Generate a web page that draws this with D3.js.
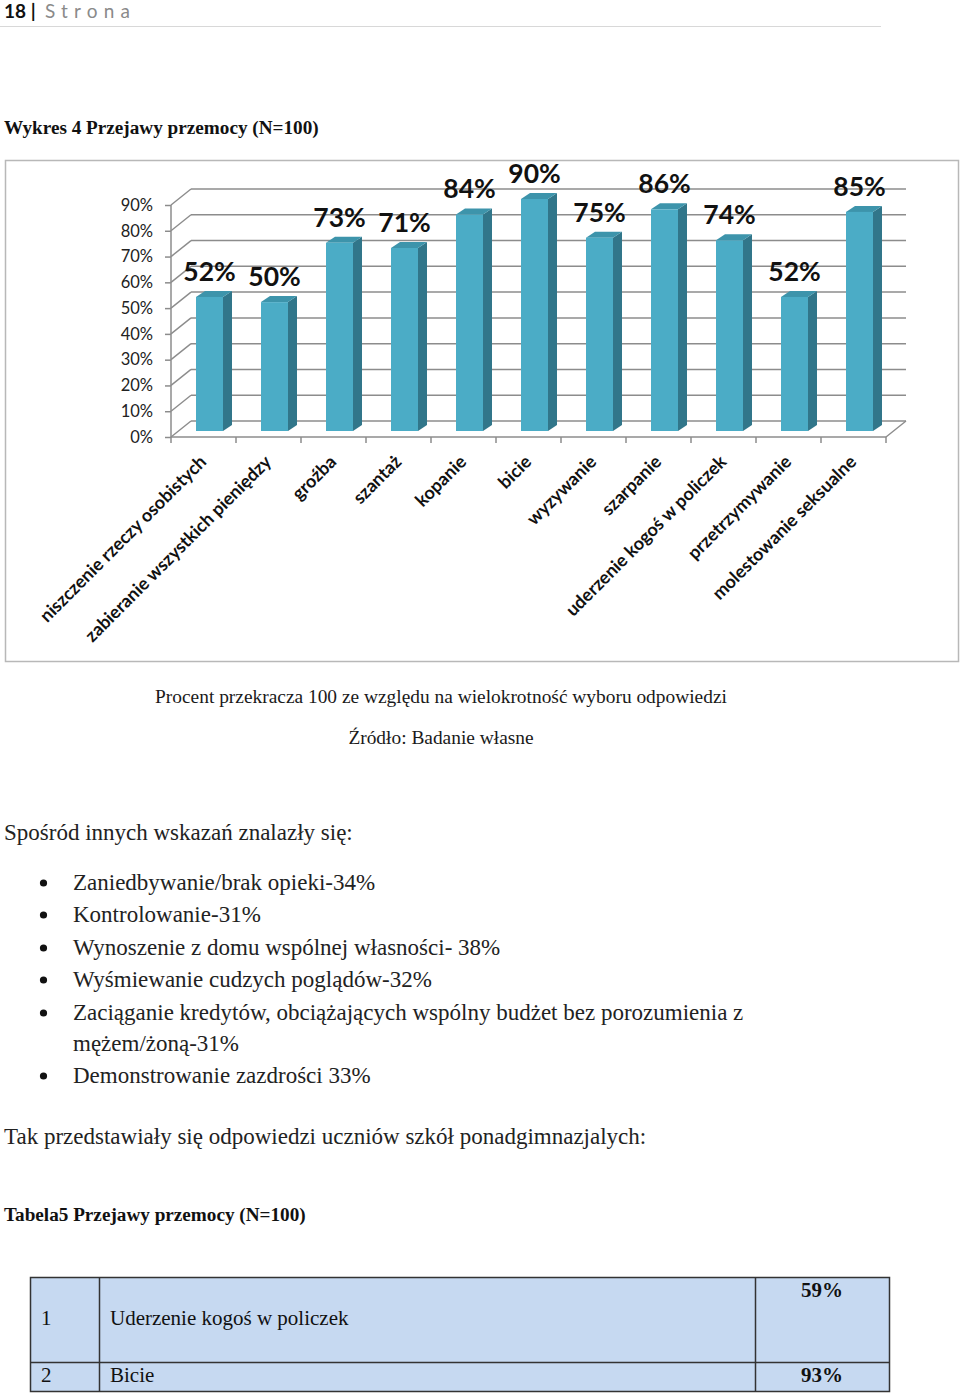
<!DOCTYPE html>
<html><head><meta charset="utf-8">
<script src="https://cdn.jsdelivr.net/npm/d3@7"></script>
<style>body{margin:0;background:#fff}svg{display:block}</style>
</head><body>
<script>
const categories = ["niszczenie rzeczy osobistych","zabieranie wszystkich pieniędzy","groźba","szantaż","kopanie","bicie","wyzywanie","szarpanie","uderzenie kogoś w policzek","przetrzymywanie","molestowanie seksualne"];
const values = [52,50,73,71,84,90,75,86,74,52,85];
const yTicks = [0,10,20,30,40,50,60,70,80,90];
const bullets = ["Zaniedbywanie/brak opieki-34%","Kontrolowanie-31%","Wynoszenie z domu wspólnej własności- 38%","Wyśmiewanie cudzych poglądów-32%","Zaciąganie kredytów, obciążających wspólny budżet bez porozumienia z","mężem/żoną-31%","Demonstrowanie zazdrości 33%"];
const tableRows = [["1","Uderzenie kogoś w policzek","59%"],["2","Bicie","93%"]];

const W=960,H=1398;
const svg=d3.select("body").append("svg").attr("width",W).attr("height",H);
const serif="'Liberation Serif','Times New Roman',serif";
const sans="Lato,'Open Sans',sans-serif";

// header
svg.append("text").attr("x",4).attr("y",18).attr("font-family",sans).attr("font-weight","bold").attr("font-size",19).attr("fill","#111").text("18 |");
svg.append("text").attr("x",45).attr("y",18).attr("font-family",sans).attr("font-size",19).attr("letter-spacing",6.2).attr("fill","#8a8a8a").text("Strona");
svg.append("line").attr("x1",0).attr("x2",881).attr("y1",26.5).attr("y2",26.5).attr("stroke","#d8d8d8").attr("stroke-width",1);

svg.append("text").attr("x",4).attr("y",134).attr("font-family",serif).attr("font-weight","bold").attr("font-size",19.2).attr("fill","#111").text("Wykres 4 Przejawy przemocy (N=100)");

// chart frame
svg.append("rect").attr("x",5.5).attr("y",160.5).attr("width",953).attr("height",501).attr("fill","#fff").attr("stroke","#b8b8b8").attr("stroke-width",1.5);

const x=d3.scaleBand().domain(categories).range([171,886]);
const y=d3.scaleLinear().domain([0,90]).range([437,205]);
const DX=20, DY=-16;
const g=svg.append("g");
const gridC="#8c8c8c";
yTicks.forEach(t=>{
  g.append("line").attr("x1",171+DX).attr("x2",886+DX).attr("y1",y(t)+DY).attr("y2",y(t)+DY).attr("stroke",gridC).attr("stroke-width",1.5);
  g.append("line").attr("x1",171).attr("x2",171+DX).attr("y1",y(t)).attr("y2",y(t)+DY).attr("stroke",gridC).attr("stroke-width",1.5);
});
g.append("line").attr("x1",886).attr("x2",886+DX).attr("y1",y(0)).attr("y2",y(0)+DY).attr("stroke",gridC).attr("stroke-width",1.5);

// bars
const BW=27, BDX=9, BDY=-6, OFF=6;
values.forEach((v,i)=>{
  const c=categories[i];
  const x0=x(c)+(x.bandwidth()-BW)/2+OFF, x1=x0+BW;
  const base=y(0)-6, top=y(v)-6;
  g.append("path").attr("d",`M${x1},${top}L${x1+BDX},${top+BDY}L${x1+BDX},${base+BDY}L${x1},${base}Z`).attr("fill","#31768a");
  g.append("path").attr("d",`M${x0},${top}L${x0+BDX},${top+BDY}L${x1+BDX},${top+BDY}L${x1},${top}Z`).attr("fill","#3d94ab");
  g.append("rect").attr("x",x0).attr("y",top).attr("width",BW).attr("height",base-top).attr("fill","#4bacc6");
  g.append("text").attr("x",x(c)+x.bandwidth()/2+6).attr("y",y(v)-31+9).attr("text-anchor","middle")
    .attr("font-family",sans).attr("font-weight","bold").attr("font-size",26.5).attr("fill","#111").text(v+"%");
});

g.append("line").attr("x1",171).attr("x2",886).attr("y1",y(0)).attr("y2",y(0)).attr("stroke",gridC).attr("stroke-width",1.5);

// y axis
const ya=svg.append("g").attr("transform","translate(171,0)").call(d3.axisLeft(y).tickValues(yTicks).tickFormat(d=>d+"%").tickSize(6).tickPadding(12));
ya.select(".domain").attr("stroke",gridC).attr("stroke-width",1.5).attr("d",`M-0,${y(0)}V${y(90)}`);
ya.selectAll(".tick line").attr("stroke",gridC).attr("stroke-width",1.5);
ya.selectAll(".tick text").attr("font-family",sans).attr("font-size",16.5).attr("fill","#222");

// x axis ticks at band boundaries
const bounds=categories.map(c=>x(c)).concat([886]);
bounds.forEach(b=>{
  svg.append("line").attr("x1",b).attr("x2",b).attr("y1",y(0)).attr("y2",y(0)+6).attr("stroke",gridC).attr("stroke-width",1.5);
});
categories.forEach(c=>{
  const cx=x(c)+x.bandwidth()/2+4, cy=463;
  svg.append("text").attr("transform",`translate(${cx},${cy}) rotate(-45)`).attr("text-anchor","end")
    .attr("font-family",sans).attr("font-weight","bold").attr("font-size",18).attr("fill","#111").text(c);
});

// notes
svg.append("text").attr("x",441).attr("y",703).attr("text-anchor","middle").attr("font-family",serif).attr("font-size",19.4).attr("fill","#1a1a1a").text("Procent przekracza 100 ze względu na wielokrotność wyboru odpowiedzi");
svg.append("text").attr("x",441).attr("y",744).attr("text-anchor","middle").attr("font-family",serif).attr("font-size",19.4).attr("fill","#1a1a1a").text("Źródło: Badanie własne");

const bodyFS=23;
svg.append("text").attr("x",4).attr("y",840).attr("font-family",serif).attr("font-size",bodyFS).attr("fill","#222").text("Spośród innych wskazań znalazły się:");
const bulletY=[890,922,955,987,1020,1051,1083];
bullets.forEach((b,i)=>{
  if(i!==5) svg.append("circle").attr("cx",43.5).attr("cy",bulletY[i]-7).attr("r",3.6).attr("fill","#111");
  svg.append("text").attr("x",73).attr("y",bulletY[i]).attr("font-family",serif).attr("font-size",bodyFS).attr("fill","#222").text(b);
});
svg.append("text").attr("x",4).attr("y",1144).attr("font-family",serif).attr("font-size",bodyFS).attr("fill","#222").text("Tak przedstawiały się odpowiedzi uczniów szkół ponadgimnazjalych:");
svg.append("text").attr("x",4).attr("y",1221).attr("font-family",serif).attr("font-weight","bold").attr("font-size",19.2).attr("fill","#111").text("Tabela5 Przejawy przemocy (N=100)");

// table
const tx=[30.5,99.5,755.5,889.5], ty=[1277.5,1362.5,1391.5];
svg.append("rect").attr("x",tx[0]).attr("y",ty[0]).attr("width",tx[3]-tx[0]).attr("height",ty[2]-ty[0]).attr("fill","#c6d9f1").attr("stroke","#333").attr("stroke-width",1.5);
svg.append("line").attr("x1",tx[0]).attr("x2",tx[3]).attr("y1",ty[1]).attr("y2",ty[1]).attr("stroke","#333").attr("stroke-width",1.5);
[tx[1],tx[2]].forEach(xx=>svg.append("line").attr("x1",xx).attr("x2",xx).attr("y1",ty[0]).attr("y2",ty[2]).attr("stroke","#333").attr("stroke-width",1.5));
const rowTextY=[1325,1382], rowValY=[1297,1382];
tableRows.forEach((r,i)=>{
  svg.append("text").attr("x",41).attr("y",rowTextY[i]).attr("font-family",serif).attr("font-size",21).attr("fill","#111").text(r[0]);
  svg.append("text").attr("x",110).attr("y",rowTextY[i]).attr("font-family",serif).attr("font-size",21).attr("fill","#111").text(r[1]);
  svg.append("text").attr("x",822).attr("y",rowValY[i]).attr("text-anchor","middle").attr("font-family",serif).attr("font-weight","bold").attr("font-size",21).attr("fill","#111").text(r[2]);
});
</script>
</body></html>
